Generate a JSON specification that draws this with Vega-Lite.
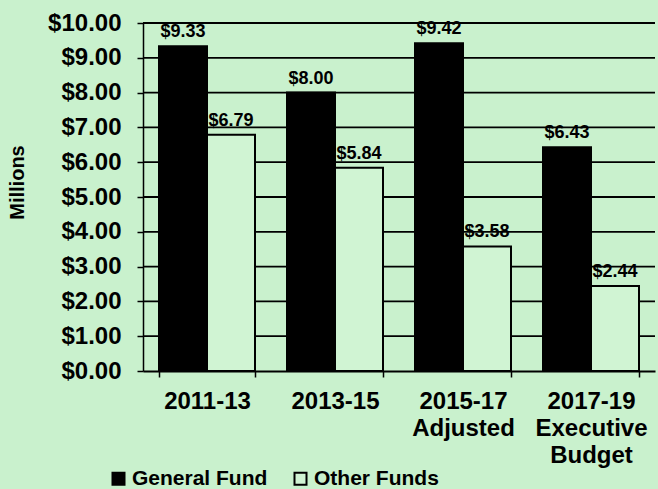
{
  "$schema": "https://vega.github.io/schema/vega-lite/v6.json",
  "width": 512,
  "height": 348,
  "autosize": "none",
  "padding": {"left": 143, "top": 23, "right": 3, "bottom": 118},
  "background": "#c9f1cd",
  "config": {"view": {"stroke": null}, "font": "Liberation Sans"},
  "datasets": {
    "budget": [
      {"period": "2011-13", "fund": "General Fund", "value": 9.33},
      {"period": "2011-13", "fund": "Other Funds", "value": 6.79},
      {"period": "2013-15", "fund": "General Fund", "value": 8.0},
      {"period": "2013-15", "fund": "Other Funds", "value": 5.84},
      {"period": "2015-17 Adjusted", "fund": "General Fund", "value": 9.42},
      {"period": "2015-17 Adjusted", "fund": "Other Funds", "value": 3.58},
      {"period": "2017-19 Executive Budget", "fund": "General Fund", "value": 6.43},
      {"period": "2017-19 Executive Budget", "fund": "Other Funds", "value": 2.44}
    ],
    "grid": [
      {"value": 1}, {"value": 2}, {"value": 3}, {"value": 4}, {"value": 5},
      {"value": 6}, {"value": 7}, {"value": 8}, {"value": 9}, {"value": 10}
    ]
  },
  "encoding": {
    "y": {
      "field": "value",
      "type": "quantitative",
      "scale": {"domain": [0, 10]},
      "axis": {
        "values": [0, 1, 2, 3, 4, 5, 6, 7, 8, 9, 10],
        "format": "$.2f",
        "grid": false,
        "labelOverlap": false,
        "labelFontSize": 24,
        "labelFontWeight": "bold",
        "labelColor": "black",
        "labelPadding": 16,
        "tickColor": "black",
        "tickWidth": 1.5,
        "tickSize": 6,
        "domainColor": "black",
        "domainWidth": 1.5,
        "title": "Millions",
        "titleFontSize": 20,
        "titleFontWeight": "bold",
        "titleColor": "black",
        "titlePadding": 20,
        "titleY": 159
      }
    }
  },
  "layer": [
    {
      "data": {"name": "grid"},
      "mark": {"type": "rule", "color": "black", "strokeWidth": 1.8},
      "encoding": {}
    },
    {
      "data": {"name": "budget"},
      "encoding": {
        "x": {
          "field": "period",
          "type": "nominal",
          "sort": null,
          "scale": {"paddingInner": 0.25, "paddingOuter": 0.125},
          "axis": {
            "title": null,
            "labelAngle": 0,
            "labelExpr": "split(datum.label, ' ')",
            "labelFontSize": 24,
            "labelFontWeight": "bold",
            "labelColor": "black",
            "labelLineHeight": 27,
            "labelPadding": 12,
            "tickBand": "extent",
            "tickColor": "black",
            "tickWidth": 1.5,
            "tickSize": 6,
            "domainColor": "black",
            "domainWidth": 2,
            "grid": false
          }
        },
        "xOffset": {
          "field": "fund",
          "type": "nominal",
          "sort": ["General Fund", "Other Funds"],
          "scale": {"paddingInner": 0, "paddingOuter": 0}
        }
      },
      "layer": [
        {
          "mark": {"type": "bar", "stroke": "black", "strokeWidth": 2},
          "encoding": {
            "fill": {
              "field": "fund",
              "type": "nominal",
              "scale": {"domain": ["General Fund", "Other Funds"], "range": ["#000000", "#d0f4d3"]},
              "legend": {
                "title": null,
                "orient": "none",
                "legendX": -35,
                "legendY": 445,
                "direction": "horizontal",
                "symbolType": "square",
                "symbolSize": 144,
                "symbolStrokeColor": "black",
                "symbolStrokeWidth": 2,
                "labelFontSize": 21,
                "labelFontWeight": "bold",
                "labelColor": "black",
                "labelOffset": 3,
                "columnPadding": 22
              }
            }
          }
        },
        {
          "mark": {"type": "text", "dy": -5, "baseline": "bottom", "fontWeight": "bold", "fontSize": 18, "color": "black"},
          "encoding": {"text": {"field": "value", "type": "quantitative", "format": "$.2f"}}
        }
      ]
    }
  ]
}
